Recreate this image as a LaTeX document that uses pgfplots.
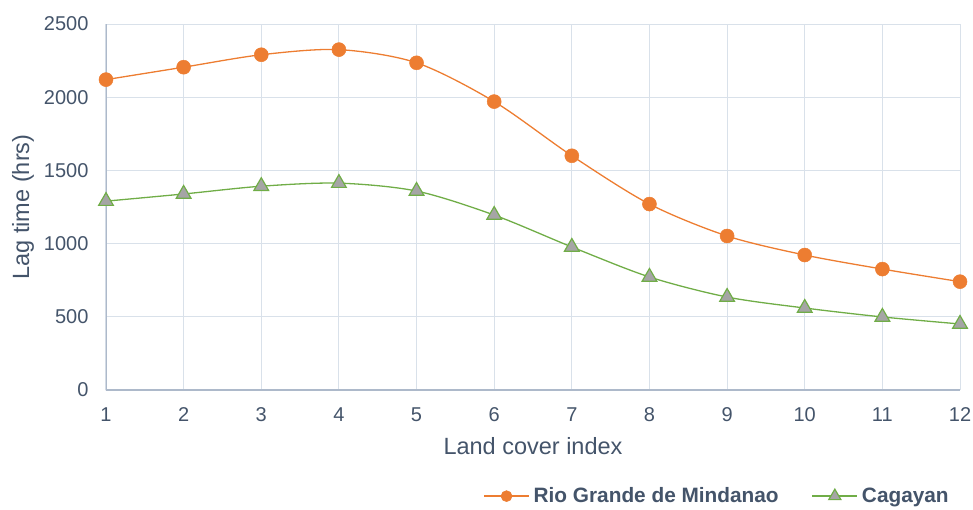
\documentclass[border=0pt]{standalone}
\usepackage{pgfplots}
\pgfplotsset{compat=1.18}
\usepackage{fontspec}
\setmainfont{Liberation Sans}

\definecolor{txt}{HTML}{44546A}
\definecolor{gridc}{HTML}{D9E1EA}
\definecolor{axisc}{HTML}{ADB9CA}
\definecolor{rgOrange}{HTML}{ED7D31}
\definecolor{cgGreen}{HTML}{70AD47}
\definecolor{cgGray}{HTML}{A5A5A5}

\begin{document}
\begin{tikzpicture}
\path[use as bounding box] (-106pt,-119pt) rectangle (867pt,390pt);
\begin{axis}[
  scale only axis,
  width=854pt, height=366pt,
  xmin=1, xmax=12, ymin=0, ymax=2500,
  xtick={1,...,12},
  ytick={0,500,...,2500},
  grid=major,
  major grid style={gridc, line width=1pt},
  axis line style={draw=none},
  major tick length=0pt,
  /pgf/number format/assume math mode=true,
  /pgf/number format/1000 sep={},
  tick label style={font=\fontsize{20}{22}\selectfont, text=txt},
  xticklabel style={yshift=-14pt},
  yticklabel style={xshift=-14pt},
  xlabel={Land cover index},
  ylabel={Lag time (hrs)},
  label style={font=\fontsize{23.5}{26}\selectfont, text=txt},
  xlabel style={yshift=-9pt},
  ylabel style={yshift=3pt},
  legend style={at={(0.7155,-0.290)}, anchor=center, draw=none,
    font=\fontsize{20.8}{23}\selectfont\bfseries, text=txt,
    legend columns=2, column sep=2pt, /tikz/every even column/.append style={column sep=31pt}},
  legend image code/.code={%
    \draw[#1, mark repeat=2, mark phase=2]
      plot coordinates {(0pt,0pt) (22.5pt,0pt) (45pt,0pt)};},
]
% left and bottom axis lines
\draw[axisc, line width=1.2pt] (axis cs:1,2500) -- (axis cs:1,0) -- (axis cs:12,0);

% legend symbols (slightly smaller marks than in the plot)
\addlegendimage{rgOrange, line width=1.3pt, mark=*, mark size=5.5pt,
  mark options={fill=rgOrange, draw=rgOrange, line width=0.5pt}}
\addlegendentry{Rio Grande de Mindanao}
\addlegendimage{cgGreen, line width=1.3pt, mark=triangle*, mark size=7pt,
  mark options={fill=cgGray, draw=cgGreen, line width=1.2pt}}
\addlegendentry{Cagayan}

\addplot[forget plot, rgOrange, line width=1.3pt, smooth, tension=0.5,
  mark=*, mark size=7pt, mark options={fill=rgOrange, draw=rgOrange, line width=0.5pt}]
  coordinates {
  (1,2120) (2,2205) (3,2290) (4,2325) (5,2235) (6,1970)
  (7,1600) (8,1270) (9,1052) (10,922) (11,826) (12,740)
  };

\addplot[forget plot, cgGreen, line width=1.3pt, smooth, tension=0.5,
  mark=triangle*, mark size=8.5pt, mark options={fill=cgGray, draw=cgGreen, line width=1.2pt}]
  coordinates {
  (1,1290) (2,1339) (3,1392) (4,1413) (5,1359) (6,1195)
  (7,977) (8,772) (9,635) (10,560) (11,499) (12,451)
  };
\end{axis}
\end{tikzpicture}
\end{document}
